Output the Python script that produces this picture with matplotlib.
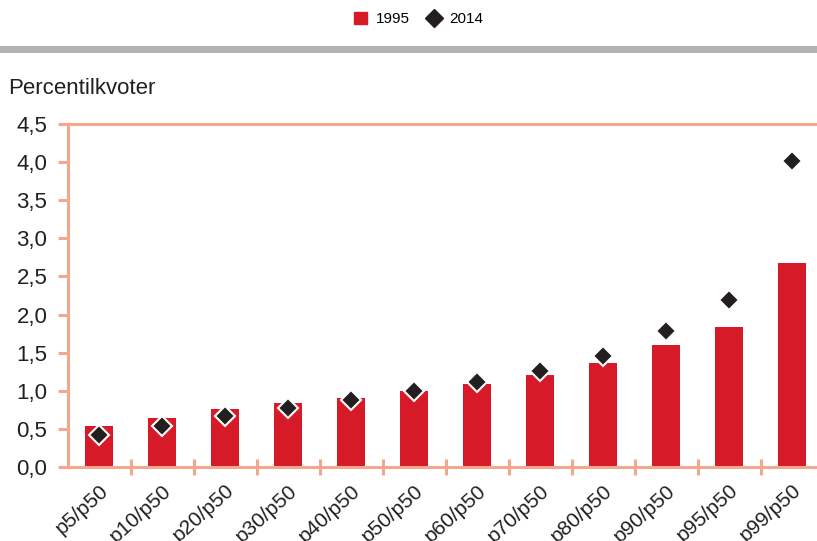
import matplotlib.pyplot as plt
import matplotlib.patches as mpatches
from matplotlib.lines import Line2D
import numpy as np

# data
kategorier = ["p5/p50", "p10/p50", "p20/p50", "p30/p50", "p40/p50", "p50/p50",
              "p60/p50", "p70/p50", "p80/p50", "p90/p50", "p95/p50", "p99/p50"]
verdi_1995 = [0.54, 0.64, 0.76, 0.84, 0.91, 1.00, 1.09, 1.21, 1.36, 1.60, 1.84, 2.68]
verdi_2014 = [0.42, 0.54, 0.67, 0.77, 0.88, 1.00, 1.12, 1.26, 1.45, 1.79, 2.19, 4.02]
y_ticks = [0.0, 0.5, 1.0, 1.5, 2.0, 2.5, 3.0, 3.5, 4.0, 4.5]
y_labels = ["0,0", "0,5", "1,0", "1,5", "2,0", "2,5", "3,0", "3,5", "4,0", "4,5"]

rod = "#d71a28"
svart = "#231f20"
akse = "#f2a88f"
W, H = 817, 541

plt.rcParams["font.family"] = ["Liberation Sans", "DejaVu Sans"]

fig = plt.figure(figsize=(W / 100, H / 100), dpi=100)
ax = fig.add_axes([67.5 / W, 1 - 467 / H, (823.5 - 67.5) / W, (467 - 124) / H])

x = np.arange(len(kategorier))
ax.bar(x, verdi_1995, width=0.45, color=rod, zorder=2)
ax.plot(x, verdi_2014, linestyle="none", marker="D", markersize=10.5,
        markerfacecolor=svart, markeredgecolor="white", markeredgewidth=1.5, zorder=3)

ax.set_xlim(-0.5, len(kategorier) - 0.5)
ax.set_ylim(0, 4.5)
ax.set_yticks(y_ticks)
ax.set_yticklabels(y_labels, fontsize=16, color="#231f20")
ax.set_xticks(x)
ax.set_xticklabels(kategorier, rotation=42, ha="right", va="top", rotation_mode="anchor",
                   fontsize=15, color="#231f20")
ax.tick_params(axis="x", which="major", length=0, pad=10)
ax.set_xticks(x[:-1] + 0.5, minor=True)
ax.tick_params(axis="x", which="minor", direction="inout", length=12, width=2.2, color=akse)
ax.tick_params(axis="y", direction="out", length=7.5, width=2.2, color=akse, pad=7)

for side in ["left", "bottom", "top"]:
    ax.spines[side].set_color(akse)
    ax.spines[side].set_linewidth(2.2)
ax.spines["right"].set_visible(False)

fig.text(8 / W, 1 - 88 / H, "Percentilkvoter", fontsize=16, color="#231f20", va="center")

# grey band at the top
fig.add_artist(mpatches.Rectangle((0, 1 - 53 / H), 1, 7 / H, transform=fig.transFigure,
                                  color="#b1b2b6", lw=0))

handles = [
    mpatches.Patch(color=rod, label="1995"),
    Line2D([], [], linestyle="none", marker="D", markersize=9, color=svart, label="2014"),
]
fig.legend(handles=handles, loc="center", bbox_to_anchor=(419 / W, 1 - 19 / H), ncol=2,
           frameon=False, fontsize=11, handlelength=0.8, handleheight=0.8,
           columnspacing=1.2, handletextpad=0.6)

fig.savefig("out.png", dpi=100)
